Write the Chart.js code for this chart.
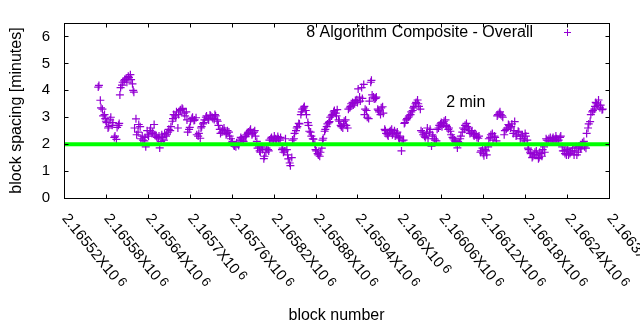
<!DOCTYPE html>
<html>
<head>
<meta charset="utf-8">
<script src="https://cdn.jsdelivr.net/npm/chart.js@4.4.1/dist/chart.umd.min.js"></script>
<style>
  html, body { margin: 0; padding: 0; background: #fff; }
  canvas { display: block; }
</style>
</head>
<body>
<canvas id="c" width="640" height="330"></canvas>
<script>
// Block spacing (minutes), two interleaved runs of evenly spaced samples
const firstBlockA = 2165569;
const lastBlockA = 2166291;
const spacingA = [
  4.12, 3.63, 3.3, 3.1, 2.85, 2.6, 2.9, 2.7, 2.25, 2.18,
  2.7, 3.83, 4.19, 4.35, 4.45, 4.52, 4.58, 4.24, 3.93, 2.94,
  2.45, 2.65, 2.3, 2.12, 1.9, 2.35, 2.5, 2.4, 2.73, 2.3,
  2.2, 1.86, 2.35, 2.15, 2.3, 2.45, 2.5, 2.85, 3.1, 3.0,
  2.6, 3.25, 3.33, 3.15, 3.2, 2.45, 2.62, 2.95, 2.88, 2.98,
  2.3, 2.22, 2.65, 2.8, 3.0, 2.95, 3.08, 3.0, 2.92, 3.05,
  2.85, 2.55, 2.45, 2.6, 2.35, 2.5, 2.3, 2.05, 1.95, 1.9,
  2.0, 2.15, 2.2, 2.1, 2.28, 2.4, 2.5, 2.35, 2.45, 2.3,
  1.85, 1.75, 1.9, 1.46, 1.7, 1.8, 2.15, 2.25, 2.12, 2.2,
  2.28, 2.15, 1.8, 1.7, 2.2, 1.6, 1.3, 1.5, 2.2, 2.5,
  2.65, 2.75, 3.2, 3.35, 3.25, 2.8, 2.48, 2.3, 2.19, 1.8,
  1.65, 1.55, 1.85, 2.22, 2.55, 2.75, 2.84, 3.05, 3.2, 3.15,
  3.28, 2.85, 2.65, 2.75, 2.9, 2.6, 3.35, 3.5, 3.45, 3.62,
  3.55, 3.75, 4.1, 4.22, 3.3, 3.0, 3.6, 4.37, 3.75, 3.7,
  3.3, 3.2, 3.35, 3.15, 2.5, 2.35, 2.45, 2.55, 2.4, 2.3,
  2.45, 2.2, 1.75, 2.15, 2.8, 2.95, 3.05, 3.2, 3.35, 3.5,
  3.64, 3.4, 2.5, 2.35, 2.25, 2.6, 2.45, 1.93, 2.3, 2.15,
  2.55, 2.7, 2.8, 2.75, 2.9, 2.65, 2.6, 2.35, 2.2, 2.1,
  1.86, 2.05, 2.3, 2.6, 2.7, 2.65, 2.5, 2.45, 2.35, 2.4,
  2.25, 2.3, 1.75, 1.65, 1.8, 1.6, 2.2, 2.35, 2.15, 2.25,
  3.05, 3.15, 3.1, 3.0, 2.5, 2.6, 2.7, 2.65, 2.4, 2.84,
  2.35, 2.45, 2.3, 2.2, 2.4, 2.15, 1.8, 1.65, 1.55, 1.7,
  1.6, 1.5, 1.65, 1.8, 1.7, 2.15, 2.2, 2.12, 2.25, 2.18,
  2.2, 2.15, 2.3, 1.75, 1.65, 1.8, 1.6, 1.7, 1.85, 1.75,
  1.6, 1.9, 1.85, 2.05, 1.9, 2.4, 2.75, 3.1, 3.25, 3.4,
  3.5, 3.64, 3.45, 3.3
];

const firstBlockB = 2165570;
const lastBlockB = 2166290;
const spacingB = [
  4.18, 3.35, 3.05, 2.95, 2.8, 2.65, 3.0, 2.8, 2.3, 2.62,
  2.77, 4.1, 4.3, 4.4, 4.3, 4.47, 4.4, 4.0, 2.6, 2.35,
  2.73, 2.2, 2.15, 2.25, 2.5, 2.3, 2.6, 2.45, 2.35, 2.25,
  2.3, 2.1, 2.25, 2.4, 2.35, 2.55, 2.65, 2.95, 3.05, 3.2,
  3.1, 3.28, 3.3, 3.05, 2.9, 2.55, 2.85, 3.0, 2.9, 2.35,
  2.4, 2.6, 2.75, 2.9, 3.05, 2.9, 3.05, 2.95, 3.1, 2.9,
  2.7, 2.4, 2.55, 2.5, 2.4, 2.45, 2.2, 2.1, 1.93, 2.05,
  1.95, 2.25, 2.15, 2.3, 2.35, 2.45, 2.55, 2.4, 2.5, 2.1,
  1.9, 1.7, 1.8, 1.55, 1.85, 1.75, 2.2, 2.15, 2.3, 2.12,
  2.2, 2.25, 1.85, 1.75, 1.8, 1.45, 1.2, 2.15, 2.4, 2.6,
  2.77, 3.1, 3.3, 3.4, 3.1, 2.7, 2.45, 2.2, 2.0, 1.75,
  1.6, 1.7, 2.15, 2.48, 2.65, 2.8, 3.0, 3.1, 3.25, 3.05,
  2.9, 2.7, 2.6, 2.85, 2.7, 3.3, 3.4, 3.55, 3.5, 3.65,
  4.05, 3.6, 3.7, 3.1, 3.25, 2.95, 4.3, 3.83, 3.68, 3.75,
  3.25, 3.1, 3.39, 2.55, 2.4, 2.3, 2.5, 2.35, 2.5, 2.4,
  2.25, 2.3, 2.12, 2.77, 2.9, 3.0, 3.1, 3.25, 3.4, 3.55,
  3.5, 3.3, 2.45, 2.3, 2.4, 2.2, 2.55, 2.35, 2.2, 2.12,
  2.6, 2.75, 2.65, 2.85, 2.7, 2.55, 2.48, 2.25, 2.15, 2.05,
  2.1, 2.2, 2.45, 2.55, 2.77, 2.6, 2.4, 2.5, 2.3, 2.35,
  2.22, 1.7, 1.85, 1.57, 1.75, 1.9, 2.25, 2.4, 2.3, 2.12,
  3.1, 3.2, 3.05, 2.35, 2.55, 2.73, 2.6, 2.75, 2.5, 2.3,
  2.48, 2.2, 2.35, 2.12, 2.3, 1.85, 1.7, 1.5, 1.6, 1.75,
  1.46, 1.7, 1.55, 1.9, 2.2, 2.12, 2.25, 2.2, 2.15, 2.3,
  2.12, 2.25, 1.9, 1.75, 1.6, 1.85, 1.65, 1.75, 1.6, 1.9,
  1.7, 1.82, 1.95, 2.1, 1.85, 2.6, 2.84, 3.2, 3.3, 3.55,
  3.45, 3.35, 3.28
];

// Target spacing line
const targetMinutes = 2;
const targetLabel = '2 min';
const targetLabelBlock = 2166067;
const targetLabelMinutes = 3.55;

// Axes
const xMin = 2165520;
const xMax = 2166300;
const xTickValues = [2165520, 2165580, 2165640, 2165700, 2165760, 2165820, 2165880,
                     2165940, 2166000, 2166060, 2166120, 2166180, 2166240, 2166300];
const xTickMantissas = ['2.16552', '2.16558', '2.16564', '2.1657', '2.16576', '2.16582', '2.16588',
                        '2.16594', '2.166', '2.16606', '2.16612', '2.16618', '2.16624', '2.1663'];
const xTickExponent = '6';
const yMin = 0;
const yMax = 6.5;
const yTickValues = [0, 1, 2, 3, 4, 5, 6];

const seriesLabel = '8 Algorithm Composite - Overall';
const xTitle = 'block number';
const yTitle = 'block spacing [minutes]';

const FONT_FAMILY = '"Liberation Sans", Arial, sans-serif';
const FONT_SIZE = 16;
const TICK_FONT_SIZE = 15;
const XLABEL_ANGLE = 51 * Math.PI / 180;
const PURPLE = '#9400d3';
const GREEN = '#00ff00';
const TICK_LEN = 4;

function samplesToPoints(values, first, last) {
  return values.map((m, i) => ({
    x: Math.round(first + i * (last - first) / (values.length - 1)),
    y: m
  }));
}
const points = samplesToPoints(spacingA, firstBlockA, lastBlockA)
  .concat(samplesToPoints(spacingB, firstBlockB, lastBlockB))
  .sort((p, q) => p.x - q.x);

function drawCross(ctx, cx, cy, half) {
  ctx.beginPath();
  ctx.moveTo(cx - half, cy); ctx.lineTo(cx + half, cy);
  ctx.moveTo(cx, cy - half); ctx.lineTo(cx, cy + half);
  ctx.stroke();
}

// Border with inward ticks, slanted x labels, legend entry and annotation
const framePlugin = {
  id: 'frame',
  afterDraw(chart) {
    const { ctx, chartArea: a, scales: { x, y } } = chart;
    const L = Math.round(a.left) + 0.5, R = Math.round(a.right) + 0.5;
    const T = Math.round(a.top) + 0.5, B = Math.round(a.bottom) + 0.5;
    ctx.save();
    ctx.strokeStyle = '#000';
    ctx.lineWidth = 1;
    ctx.strokeRect(L, T, R - L, B - T);

    ctx.beginPath();
    yTickValues.forEach(v => {
      const py = Math.round(y.getPixelForValue(v)) + 0.5;
      ctx.moveTo(L, py); ctx.lineTo(L + TICK_LEN, py);
      ctx.moveTo(R, py); ctx.lineTo(R - TICK_LEN, py);
    });
    xTickValues.forEach(v => {
      const px = Math.round(x.getPixelForValue(v)) + 0.5;
      ctx.moveTo(px, B); ctx.lineTo(px, B - TICK_LEN);
      ctx.moveTo(px, T); ctx.lineTo(px, T + TICK_LEN);
    });
    ctx.stroke();

    // x tick labels, slanted downward to the right
    ctx.fillStyle = '#000';
    ctx.textBaseline = 'alphabetic';
    ctx.textAlign = 'left';
    xTickValues.forEach((v, i) => {
      const px = x.getPixelForValue(v);
      ctx.save();
      ctx.translate(px - 2.5, B + 20);
      ctx.rotate(XLABEL_ANGLE);
      ctx.font = `${TICK_FONT_SIZE}px ${FONT_FAMILY}`;
      const base = xTickMantissas[i] + 'X10';
      ctx.fillText(base, 0, 0);
      const w = ctx.measureText(base).width + 3;
      ctx.font = `${Math.round(TICK_FONT_SIZE * 0.85)}px ${FONT_FAMILY}`;
      ctx.fillText(xTickExponent, w, -3);
      ctx.restore();
    });

    // legend entry
    ctx.font = `${FONT_SIZE}px ${FONT_FAMILY}`;
    ctx.textAlign = 'right';
    ctx.textBaseline = 'middle';
    ctx.fillText(seriesLabel, 533, 33);
    ctx.strokeStyle = PURPLE;
    drawCross(ctx, 567.5, 32.5, 3.5);

    // target annotation
    ctx.fillStyle = '#000';
    ctx.textAlign = 'left';
    ctx.fillText(targetLabel, x.getPixelForValue(targetLabelBlock), y.getPixelForValue(targetLabelMinutes));
    ctx.restore();
  }
};

new Chart(document.getElementById('c'), {
  type: 'scatter',
  data: {
    datasets: [
      {
        type: 'line',
        label: targetLabel,
        data: [{ x: xMin, y: targetMinutes }, { x: xMax, y: targetMinutes }],
        borderColor: GREEN,
        borderWidth: 4,
        pointRadius: 0,
        order: 0
      },
      {
        label: seriesLabel,
        data: points,
        showLine: false,
        pointStyle: 'cross',
        pointRadius: 4,
        pointBorderWidth: 1.2,
        borderColor: PURPLE,
        backgroundColor: PURPLE,
        order: 1
      }
    ]
  },
  options: {
    responsive: false,
    animation: false,
    devicePixelRatio: 1,
    events: [],
    layout: { padding: { top: 20, right: 31, left: 0, bottom: 0 } },
    plugins: { legend: { display: false }, tooltip: { enabled: false } },
    scales: {
      x: {
        type: 'linear',
        min: xMin,
        max: xMax,
        grid: { display: false, drawTicks: false },
        border: { display: false },
        ticks: { display: false },
        title: {
          display: true,
          text: xTitle,
          color: '#000',
          font: { family: FONT_FAMILY, size: FONT_SIZE },
          padding: { top: 0, bottom: 5 }
        },
        afterFit(s) { s.height = 132; }
      },
      y: {
        min: yMin,
        max: yMax,
        grid: { display: false, drawTicks: false },
        border: { display: false },
        afterBuildTicks(s) { s.ticks = yTickValues.map(v => ({ value: v })); },
        ticks: {
          color: '#000',
          padding: 14,
          font: { family: FONT_FAMILY, size: TICK_FONT_SIZE }
        },
        title: {
          display: true,
          text: yTitle,
          color: '#000',
          font: { family: FONT_FAMILY, size: FONT_SIZE },
          padding: { top: 7, bottom: 0 }
        },
        afterFit(s) { s.width = 64; }
      }
    }
  },
  plugins: [framePlugin]
});
</script>
</body>
</html>
